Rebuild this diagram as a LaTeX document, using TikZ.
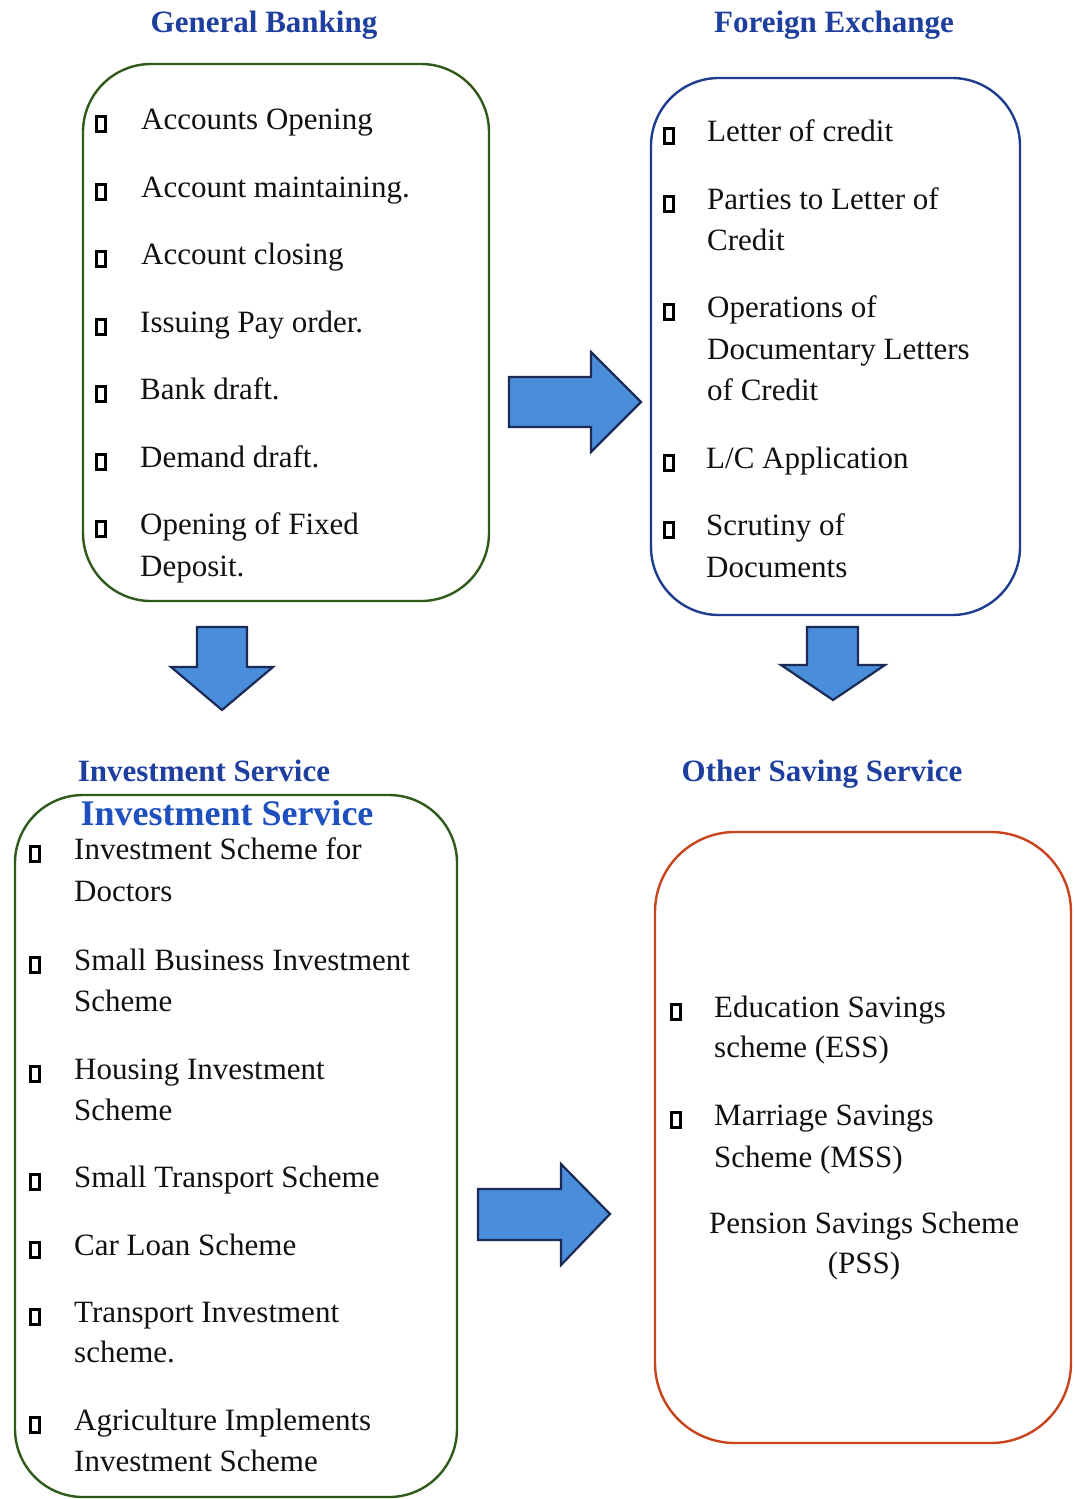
\documentclass[tikz,border=0pt]{standalone}
\usepackage{fontspec}
\setmainfont{Liberation Serif}
\definecolor{gbgreen}{HTML}{2F5A1A}
\definecolor{fxblue}{HTML}{1F3D8F}
\definecolor{ossred}{HTML}{C8441C}
\definecolor{ttlblue}{HTML}{1F3F9F}
\definecolor{ttlblue2}{HTML}{1E50C0}
\definecolor{arrfill}{HTML}{4A8DDB}
\definecolor{arrline}{HTML}{1C2B55}
\definecolor{txt}{HTML}{111111}
\begin{document}
\begin{tikzpicture}[x=1pt,y=-1pt,
  panel/.style={line width=2.4pt,rounded corners=68pt},
  itm/.style={anchor=base west,inner sep=0pt,text=txt,font=\fontsize{31}{41}\selectfont},
  ctr/.style={anchor=base,inner sep=0pt,text=txt,font=\fontsize{31}{41}\selectfont},
  ttl/.style={anchor=base,inner sep=0pt,text=ttlblue,font=\fontsize{31}{36}\selectfont\bfseries},
  bul/.style={draw=black,line width=2.4pt,minimum width=9pt,minimum height=15pt,inner sep=0pt},
  blk/.style={fill=arrfill,draw=arrline,line width=2.2pt,line join=miter}
]
\useasboundingbox (0,0) rectangle (1074,1499);
\fill[white] (0,0) rectangle (1074,1499);

% titles
\node[ttl] (tgb) at (264,32) {General Banking};
\node[ttl] (tfx) at (834,32) {Foreign Exchange};
\node[ttl] (tis) at (204,781) {Investment Service};
\node[ttl] (tos) at (822,781) {Other Saving Service};

% panels
\draw[panel,draw=gbgreen] (83,64) rectangle (489,601);
\draw[panel,draw=fxblue] (651,78) rectangle (1020,615);
\draw[panel,draw=gbgreen] (15,795) rectangle (457,1497);
\draw[panel,draw=ossred,rounded corners=80pt] (655,832) rectangle (1071,1443);

\node[ttl,text=ttlblue2,font=\fontsize{36}{40}\selectfont\bfseries] (tis2) at (227,825) {Investment Service};

% General Banking items
\node[bul] (gbb1) at (101,124) {};
\node[itm] (gb1) at (141,129) {Accounts Opening};
\node[bul] (gbb2) at (101,192) {};
\node[itm] (gb2) at (141,197) {Account maintaining.};
\node[bul] (gbb3) at (101,259) {};
\node[itm] (gb3) at (141,264) {Account closing};
\node[bul] (gbb4) at (101,327) {};
\node[itm] (gb4) at (140,332) {Issuing Pay order.};
\node[bul] (gbb5) at (101,394) {};
\node[itm] (gb5) at (140,399) {Bank draft.};
\node[bul] (gbb6) at (101,462) {};
\node[itm] (gb6) at (140,467) {Demand draft.};
\node[bul] (gbb7) at (101,529) {};
\node[itm] (gb7) at (140,534) {Opening of Fixed};
\node[itm] (gb7b) at (140,576) {Deposit.};

% Foreign Exchange items
\node[bul] (fxb1) at (669,136) {};
\node[itm] (fx1) at (707,141) {Letter of credit};
\node[bul] (fxb2) at (669,204) {};
\node[itm] (fx2) at (707,209) {Parties to Letter of};
\node[itm] (fx2b) at (707,250) {Credit};
\node[bul] (fxb3) at (669,312) {};
\node[itm] (fx3) at (707,317) {Operations of};
\node[itm] (fx3b) at (707,359) {Documentary Letters};
\node[itm] (fx3c) at (707,400) {of Credit};
\node[bul] (fxb4) at (669,463) {};
\node[itm] (fx4) at (706,468) {L/C Application};
\node[bul] (fxb5) at (669,530) {};
\node[itm] (fx5) at (706,535) {Scrutiny of};
\node[itm] (fx5b) at (706,577) {Documents};

% Investment Service items
\node[bul] (isb1) at (35,854) {};
\node[itm] (is1) at (74,859) {Investment Scheme for};
\node[itm] (is1b) at (74,901) {Doctors};
\node[bul] (isb2) at (35,965) {};
\node[itm] (is2) at (74,970) {Small Business Investment};
\node[itm] (is2b) at (74,1011) {Scheme};
\node[bul] (isb3) at (35,1074) {};
\node[itm] (is3) at (74,1079) {Housing Investment};
\node[itm] (is3b) at (74,1120) {Scheme};
\node[bul] (isb4) at (35,1182) {};
\node[itm] (is4) at (74,1187) {Small Transport Scheme};
\node[bul] (isb5) at (35,1250) {};
\node[itm] (is5) at (74,1255) {Car Loan Scheme};
\node[bul] (isb6) at (35,1317) {};
\node[itm] (is6) at (74,1322) {Transport Investment};
\node[itm] (is6b) at (74,1362) {scheme.};
\node[bul] (isb7) at (35,1425) {};
\node[itm] (is7) at (74,1430) {Agriculture Implements};
\node[itm] (is7b) at (74,1471) {Investment Scheme};

% Other Saving items
\node[bul] (osb1) at (676,1012) {};
\node[itm] (os1) at (714,1017) {Education Savings};
\node[itm] (os1b) at (714,1057) {scheme (ESS)};
\node[bul] (osb2) at (676,1120) {};
\node[itm] (os2) at (714,1125) {Marriage Savings};
\node[itm] (os2b) at (714,1167) {Scheme (MSS)};
\node[ctr] (os3) at (864,1233) {Pension Savings Scheme};
\node[ctr] (os3b) at (864,1273) {(PSS)};

% block arrows
\draw[blk] (509,377) -- (591,377) -- (591,352) -- (641,402) -- (591,452) -- (591,427) -- (509,427) -- cycle;
\draw[blk] (478,1189) -- (561,1189) -- (561,1164) -- (610,1214) -- (561,1265) -- (561,1240) -- (478,1240) -- cycle;
\draw[blk] (197,627) -- (247,627) -- (247,667) -- (273,667) -- (222,710) -- (171,667) -- (197,667) -- cycle;
\draw[blk] (807,627) -- (858,627) -- (858,665) -- (885,665) -- (833,700) -- (781,665) -- (807,665) -- cycle;
\end{tikzpicture}
\end{document}
